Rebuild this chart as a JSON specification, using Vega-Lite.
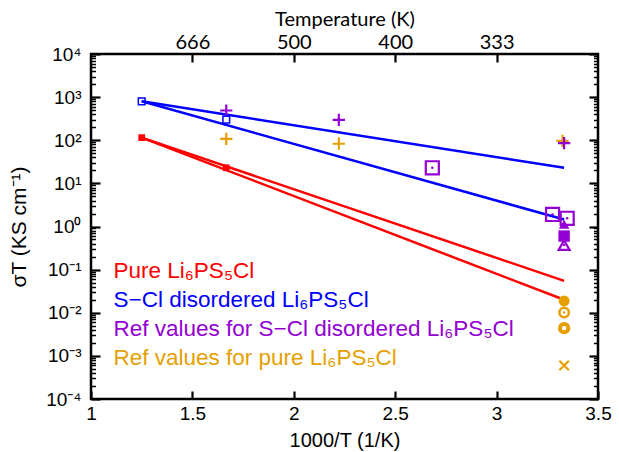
{
  "$schema": "https://vega.github.io/schema/vega-lite/v6.json",
  "width": 507,
  "height": 345,
  "autosize": {"type": "none"},
  "padding": {"left": 91, "top": 54, "right": 21, "bottom": 53},
  "background": "white",
  "config": {
    "view": {"stroke": "black", "strokeWidth": 2.5},
    "axis": {"domain": false, "tickColor": "black", "tickWidth": 2.2, "grid": false, "labelColor": "black", "titleColor": "black", "labelFont": "Liberation Sans", "titleFont": "Liberation Sans", "titleFontWeight": "normal"},
    "font": "Liberation Sans"
  },
  "datasets": {
    "lines": [
      {"series": "Pure Li₆PS₅Cl", "fit": "a", "x": 1.25, "y": 115},
      {"series": "Pure Li₆PS₅Cl", "fit": "a", "x": 3.333, "y": 0.055},
      {"series": "Pure Li₆PS₅Cl", "fit": "b", "x": 1.25, "y": 115},
      {"series": "Pure Li₆PS₅Cl", "fit": "b", "x": 3.333, "y": 0.02},
      {"series": "S−Cl disordered Li₆PS₅Cl", "fit": "c", "x": 1.25, "y": 800},
      {"series": "S−Cl disordered Li₆PS₅Cl", "fit": "c", "x": 3.333, "y": 23},
      {"series": "S−Cl disordered Li₆PS₅Cl", "fit": "d", "x": 1.25, "y": 800},
      {"series": "S−Cl disordered Li₆PS₅Cl", "fit": "d", "x": 3.333, "y": 1.45}
    ],
    "points": [
      {"series": "Pure Li₆PS₅Cl", "ref": "calcR", "x": 1.25, "y": 115},
      {"series": "Pure Li₆PS₅Cl", "ref": "calcR", "x": 1.667, "y": 23},
      {"series": "S−Cl disordered Li₆PS₅Cl", "ref": "calcB", "x": 1.25, "y": 800},
      {"series": "S−Cl disordered Li₆PS₅Cl", "ref": "calcB", "x": 1.667, "y": 300},
      {"series": "Ref values for pure Li₆PS₅Cl", "ref": "o1", "x": 1.667, "y": 108},
      {"series": "Ref values for pure Li₆PS₅Cl", "ref": "o1", "x": 2.222, "y": 83},
      {"series": "Ref values for pure Li₆PS₅Cl", "ref": "o1", "x": 3.325, "y": 97},
      {"series": "Ref values for pure Li₆PS₅Cl", "ref": "o2", "x": 3.333, "y": 0.0188},
      {"series": "Ref values for pure Li₆PS₅Cl", "ref": "o3", "x": 3.333, "y": 0.0101},
      {"series": "Ref values for pure Li₆PS₅Cl", "ref": "o4", "x": 3.333, "y": 0.0044},
      {"series": "Ref values for pure Li₆PS₅Cl", "ref": "o5", "x": 3.333, "y": 0.0006},
      {"series": "Ref values for S−Cl disordered Li₆PS₅Cl", "ref": "p1", "x": 1.667, "y": 489},
      {"series": "Ref values for S−Cl disordered Li₆PS₅Cl", "ref": "p1", "x": 2.222, "y": 298},
      {"series": "Ref values for S−Cl disordered Li₆PS₅Cl", "ref": "p1", "x": 3.333, "y": 86},
      {"series": "Ref values for S−Cl disordered Li₆PS₅Cl", "ref": "p2", "x": 2.683, "y": 23},
      {"series": "Ref values for S−Cl disordered Li₆PS₅Cl", "ref": "p2", "x": 3.276, "y": 1.9},
      {"series": "Ref values for S−Cl disordered Li₆PS₅Cl", "ref": "p2", "x": 3.348, "y": 1.55},
      {"series": "Ref values for S−Cl disordered Li₆PS₅Cl", "ref": "p3", "x": 3.333, "y": 1.13},
      {"series": "Ref values for S−Cl disordered Li₆PS₅Cl", "ref": "p4", "x": 3.333, "y": 0.6},
      {"series": "Ref values for S−Cl disordered Li₆PS₅Cl", "ref": "p5", "x": 3.333, "y": 0.37}
    ]
  },
  "resolve": {"axis": {"x": "independent", "y": "independent"}},
  "layer": [
    {
      "data": {"name": "lines"},
      "mark": {"type": "line", "strokeWidth": 2.5, "clip": true},
      "encoding": {
        "x": {"field": "x", "type": "quantitative", "scale": {"domain": [1, 3.5], "nice": false, "zero": false},
          "axis": {"orient": "bottom", "values": [1, 1.5, 2, 2.5, 3, 3.5], "format": "~g", "title": "1000/T (1/K)", "labelFontSize": 19, "titleFontSize": 20, "offset": -8, "tickSize": 8, "labelPadding": 5, "titlePadding": 7, "labelFlush": false}},
        "y": {"field": "y", "type": "quantitative", "scale": {"type": "log", "domain": [0.0001, 10000], "nice": false},
          "axis": {"orient": "left", "title": "σT (KS cm⁻¹)", "labelFontSize": 19, "titleFontSize": 21, "offset": -9, "tickSize": 9, "labelPadding": 10, "titlePadding": 16,
            "values": [0.0001, 0.001, 0.01, 0.1, 1, 10, 100, 1000, 10000],
            "labelExpr": "['10⁻⁴','10⁻³','10⁻²','10⁻¹','10⁰','10¹','10²','10³','10⁴'][round(log(datum.value)/LN10)+4]",
            "labelFlush": false, "labelOverlap": false}},
        "color": {"field": "series", "type": "nominal",
          "scale": {"domain": ["Pure Li₆PS₅Cl", "S−Cl disordered Li₆PS₅Cl", "Ref values for S−Cl disordered Li₆PS₅Cl", "Ref values for pure Li₆PS₅Cl"], "range": ["#ff0000", "#0000ff", "#9400d3", "#e69f00"]},
          "legend": {"orient": "none", "legendX": 0, "legendY": 206, "title": null, "padding": 0, "symbolSize": 0, "symbolOpacity": 0, "symbolStrokeWidth": 0, "labelOffset": 0, "labelFontSize": 22.5, "labelFont": "Liberation Sans", "labelLimit": 700, "rowPadding": 5.8,
            "encode": {"labels": {"update": {"fill": {"scale": "color", "field": "value"}}}}}},
        "detail": {"field": "fit", "type": "nominal"}
      }
    },
    {
      "data": {"name": "points"},
      "transform": [{"filter": "datum.ref == 'o1'"}],
      "mark": {"type": "point", "shape": "M-1,0H1M0,-1V1", "filled": false, "strokeWidth": 2.2, "size": 150, "opacity": 1},
      "encoding": {
        "x": {"field": "x", "type": "quantitative",
          "axis": {"orient": "top", "values": [1.5, 2, 2.5, 3], "labelExpr": "floor(1000/datum.value)", "title": "Temperature (K)", "labelFont": "Lato", "titleFont": "Lato", "labelFontSize": 20, "titleFontSize": 20, "offset": -8, "tickSize": 8, "labelPadding": 2, "titlePadding": 3}},
        "y": {"field": "y", "type": "quantitative",
          "axis": {"orient": "right", "labels": false, "title": null, "offset": -9, "tickSize": 9,
            "values": [0.0001, 0.001, 0.01, 0.1, 1, 10, 100, 1000, 10000]}},
        "color": {"field": "series", "type": "nominal", "legend": null}
      }
    },
    {
      "data": {"name": "points"},
      "transform": [{"filter": "datum.ref == 'o2'"}],
      "mark": {"type": "point", "shape": "circle", "filled": true, "size": 120, "opacity": 1},
      "encoding": {"x": {"field": "x", "type": "quantitative", "axis": null},
        "y": {"field": "y", "type": "quantitative",
          "axis": {"orient": "left", "labels": false, "title": null, "offset": -4.5, "tickSize": 4.5, "tickWidth": 1.5,
            "values": [0.0002,0.0003,0.0004,0.0005,0.0006,0.0007,0.0008,0.0009,0.002,0.003,0.004,0.005,0.006,0.007,0.008,0.009,0.02,0.03,0.04,0.05,0.06,0.07,0.08,0.09,0.2,0.3,0.4,0.5,0.6,0.7,0.8,0.9,2,3,4,5,6,7,8,9,20,30,40,50,60,70,80,90,200,300,400,500,600,700,800,900,2000,3000,4000,5000,6000,7000,8000,9000]}},
        "color": {"field": "series", "type": "nominal", "legend": null}}
    },
    {
      "data": {"name": "points"},
      "transform": [{"filter": "datum.ref == 'o3'"}],
      "mark": {"type": "point", "shape": "circle", "filled": false, "strokeWidth": 2.5, "size": 90, "opacity": 1},
      "encoding": {"x": {"field": "x", "type": "quantitative", "axis": null},
        "y": {"field": "y", "type": "quantitative",
          "axis": {"orient": "right", "labels": false, "title": null, "offset": -4.5, "tickSize": 4.5, "tickWidth": 1.5,
            "values": [0.0002,0.0003,0.0004,0.0005,0.0006,0.0007,0.0008,0.0009,0.002,0.003,0.004,0.005,0.006,0.007,0.008,0.009,0.02,0.03,0.04,0.05,0.06,0.07,0.08,0.09,0.2,0.3,0.4,0.5,0.6,0.7,0.8,0.9,2,3,4,5,6,7,8,9,20,30,40,50,60,70,80,90,200,300,400,500,600,700,800,900,2000,3000,4000,5000,6000,7000,8000,9000]}},
        "color": {"field": "series", "type": "nominal", "legend": null}}
    },
    {
      "data": {"name": "points"},
      "transform": [{"filter": "datum.ref == 'o4'"}],
      "mark": {"type": "point", "shape": "circle", "filled": false, "strokeWidth": 4, "size": 70, "opacity": 1},
      "encoding": {"x": {"field": "x", "type": "quantitative", "axis": null}, "y": {"field": "y", "type": "quantitative", "axis": null}, "color": {"field": "series", "type": "nominal", "legend": null}}
    },
    {
      "data": {"name": "points"},
      "transform": [{"filter": "datum.ref == 'o5'"}],
      "mark": {"type": "point", "shape": "M-1,-1L1,1M-1,1L1,-1", "filled": false, "strokeWidth": 2.2, "size": 90, "opacity": 1},
      "encoding": {"x": {"field": "x", "type": "quantitative", "axis": null}, "y": {"field": "y", "type": "quantitative", "axis": null}, "color": {"field": "series", "type": "nominal", "legend": null}}
    },
    {
      "data": {"name": "points"},
      "transform": [{"filter": "datum.ref == 'p1'"}],
      "mark": {"type": "point", "shape": "M-1,0H1M0,-1V1", "filled": false, "strokeWidth": 2.2, "size": 150, "opacity": 1},
      "encoding": {"x": {"field": "x", "type": "quantitative", "axis": null}, "y": {"field": "y", "type": "quantitative", "axis": null}, "color": {"field": "series", "type": "nominal", "legend": null}}
    },
    {
      "data": {"name": "points"},
      "transform": [{"filter": "datum.ref == 'p2'"}],
      "mark": {"type": "point", "shape": "square", "filled": false, "strokeWidth": 2.2, "size": 170, "opacity": 1},
      "encoding": {"x": {"field": "x", "type": "quantitative", "axis": null}, "y": {"field": "y", "type": "quantitative", "axis": null}, "color": {"field": "series", "type": "nominal", "legend": null}}
    },
    {
      "data": {"name": "points"},
      "transform": [{"filter": "datum.ref == 'p3'"}],
      "mark": {"type": "point", "shape": "triangle-up", "filled": true, "size": 110, "opacity": 1},
      "encoding": {"x": {"field": "x", "type": "quantitative", "axis": null}, "y": {"field": "y", "type": "quantitative", "axis": null}, "color": {"field": "series", "type": "nominal", "legend": null}}
    },
    {
      "data": {"name": "points"},
      "transform": [{"filter": "datum.ref == 'p4'"}],
      "mark": {"type": "point", "shape": "square", "filled": true, "size": 130, "opacity": 1},
      "encoding": {"x": {"field": "x", "type": "quantitative", "axis": null}, "y": {"field": "y", "type": "quantitative", "axis": null}, "color": {"field": "series", "type": "nominal", "legend": null}}
    },
    {
      "data": {"name": "points"},
      "transform": [{"filter": "datum.ref == 'p5'"}],
      "mark": {"type": "point", "shape": "triangle-up", "filled": false, "strokeWidth": 2.2, "size": 120, "opacity": 1},
      "encoding": {"x": {"field": "x", "type": "quantitative", "axis": null}, "y": {"field": "y", "type": "quantitative", "axis": null}, "color": {"field": "series", "type": "nominal", "legend": null}}
    },
    {
      "data": {"name": "points"},
      "transform": [{"filter": "datum.ref == 'p2' || datum.ref == 'p5' || datum.ref == 'o3'"}],
      "mark": {"type": "point", "shape": "circle", "filled": true, "size": 6, "opacity": 1},
      "encoding": {"x": {"field": "x", "type": "quantitative", "axis": null}, "y": {"field": "y", "type": "quantitative", "axis": null}, "color": {"field": "series", "type": "nominal", "legend": null}}
    },
    {
      "data": {"name": "points"},
      "transform": [{"filter": "datum.ref == 'calcR'"}],
      "mark": {"type": "point", "shape": "square", "filled": true, "size": 45, "opacity": 1},
      "encoding": {"x": {"field": "x", "type": "quantitative", "axis": null}, "y": {"field": "y", "type": "quantitative", "axis": null}, "color": {"field": "series", "type": "nominal", "legend": null}}
    },
    {
      "data": {"name": "points"},
      "transform": [{"filter": "datum.ref == 'calcB'"}],
      "mark": {"type": "point", "shape": "square", "filled": false, "strokeWidth": 1.5, "size": 45, "opacity": 1},
      "encoding": {"x": {"field": "x", "type": "quantitative", "axis": null}, "y": {"field": "y", "type": "quantitative", "axis": null}, "color": {"field": "series", "type": "nominal", "legend": null}}
    }
  ]
}
